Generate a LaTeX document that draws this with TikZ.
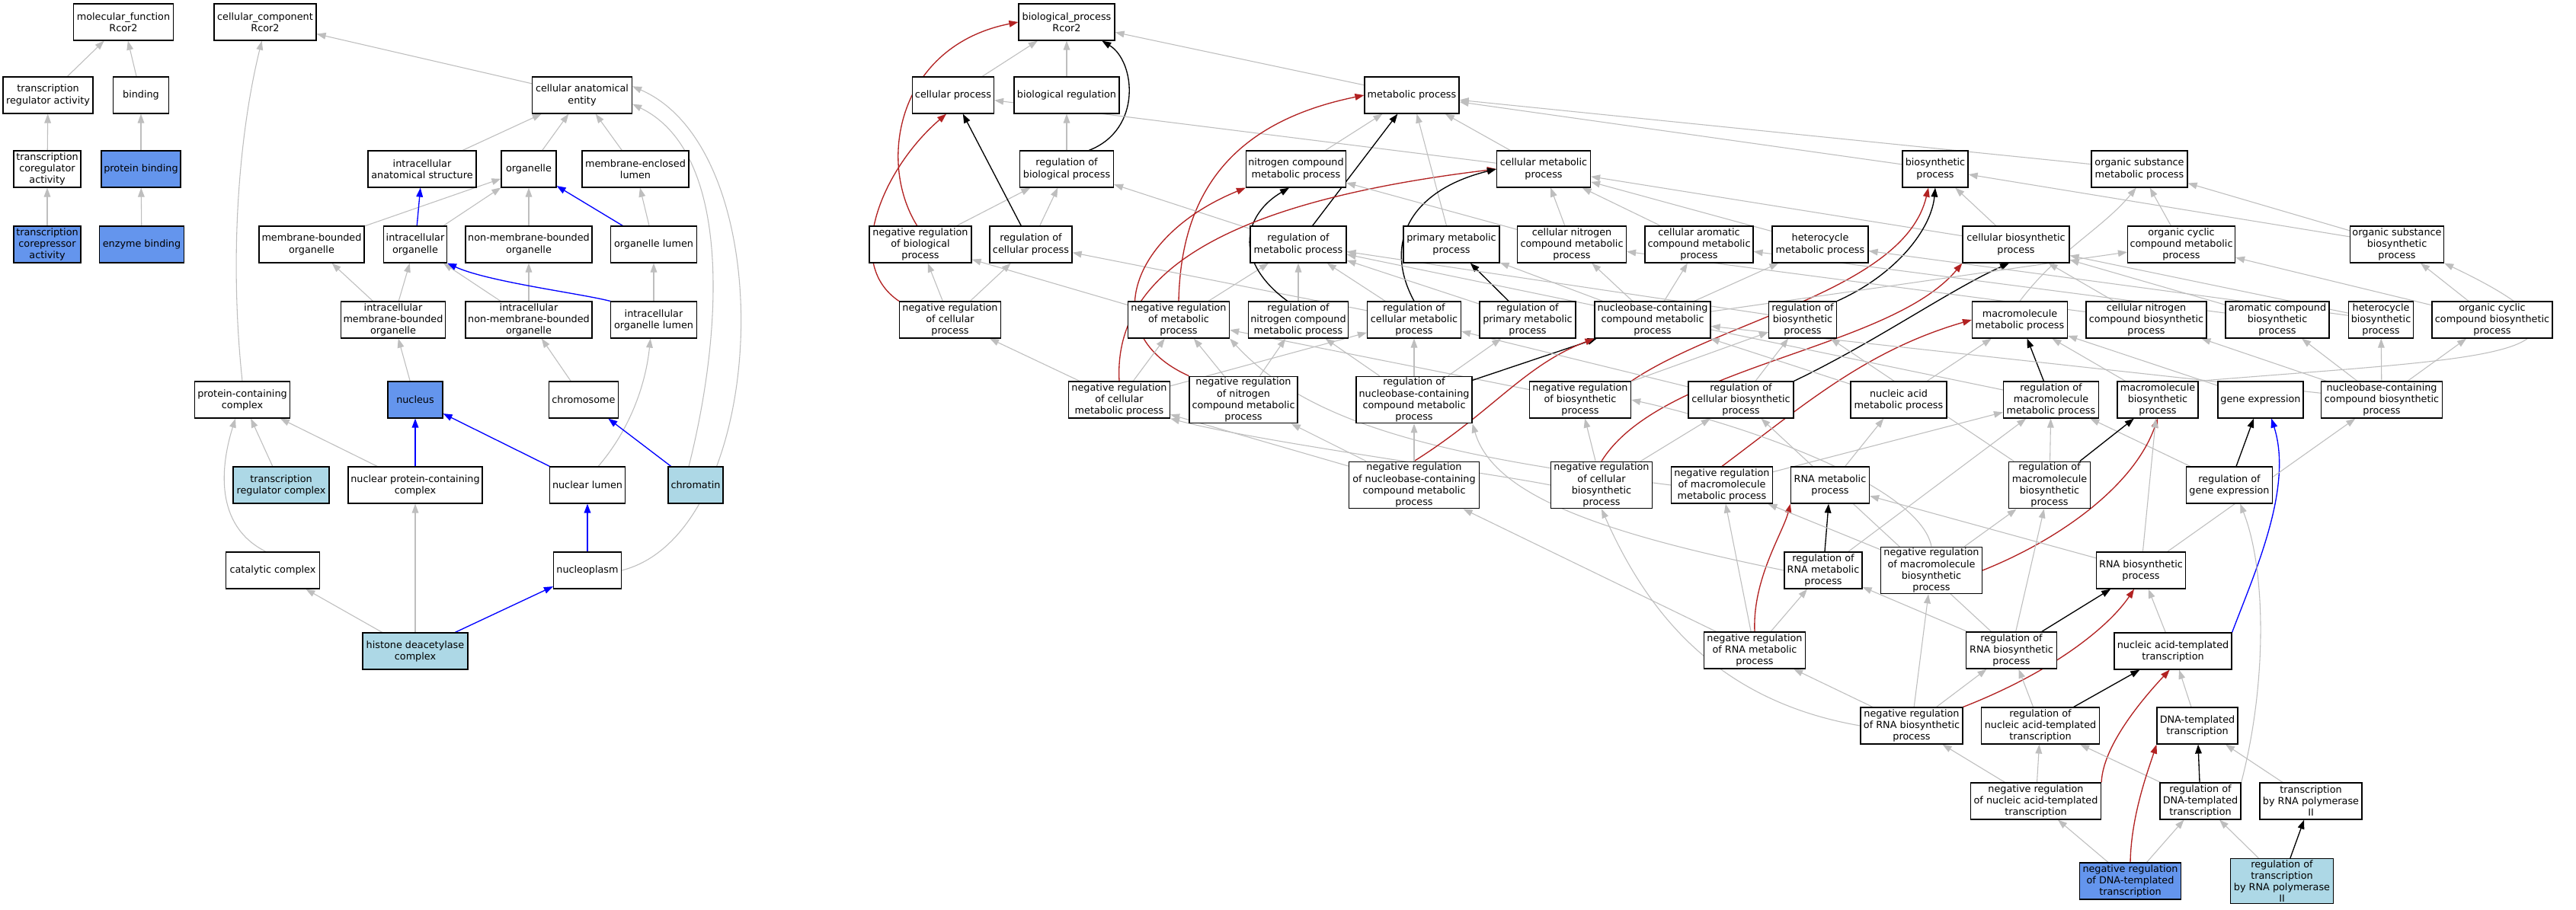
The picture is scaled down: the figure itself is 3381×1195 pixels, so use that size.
\documentclass[tikz,border=0pt]{standalone}
\usepackage{fontspec}
\newfontfamily\dejavu{DejaVu Sans}
\usetikzlibrary{arrows.meta,backgrounds}
\definecolor{hitblue}{HTML}{6495ED}
\definecolor{annoblue}{HTML}{ADD8E6}
\definecolor{isagray}{HTML}{BEBEBE}
\definecolor{negred}{HTML}{B22222}
\newcommand\gofont{\dejavu\fontsize{9.6pt}{11.3pt}\selectfont}

\begin{document}
\begin{tikzpicture}[x=0.75pt, y=-0.75pt,
    term/.style={draw, rectangle, fill=white, align=center, font=\gofont, line width=0.9pt,
      inner sep=1.5pt, minimum height=36pt, minimum width=#1*0.75pt},
    hit/.style={term=#1, fill=hitblue},
    anno/.style={term=#1, fill=annoblue},
    isa/.style={draw=isagray, line width=0.8pt, -{Triangle[length=9pt,width=6.5pt]}},
    reg/.style={draw=black, line width=1pt, -{Triangle[length=9pt,width=6.5pt]}},
    nreg/.style={draw=negred, line width=1pt, -{Triangle[length=9pt,width=6.5pt]}},
    partof/.style={draw=blue, line width=1pt, -{Triangle[length=9pt,width=6.5pt]}}]

  \useasboundingbox (0,0) rectangle (3381,1195);

  % molecular function
  \node[term=131] (mf) at (162,29) {molecular\_function\\Rcor2};
  \node[term=118] (tra) at (63,125) {transcription\\regulator activity};
  \node[term=73] (bind) at (185,125) {binding};
  \node[term=88] (tca) at (62,222) {transcription\\coregulator\\activity};
  \node[hit=104] (pbind) at (185,222) {protein binding};
  \node[hit=88] (tcra) at (62,321) {transcription\\corepressor\\activity};
  \node[hit=111] (ebind) at (186,321) {enzyme binding};

  % cellular component
  \node[term=134] (cc) at (348,29) {cellular\_component\\Rcor2};
  \node[term=131] (cae) at (764,125) {cellular anatomical\\entity};
  \node[term=142] (ias) at (554,222) {intracellular\\anatomical structure};
  \node[term=72] (org) at (694,222) {organelle};
  \node[term=140] (mel) at (834,222) {membrane-enclosed\\lumen};
  \node[term=138] (mbo) at (409,321) {membrane-bounded\\organelle};
  \node[term=83] (io) at (545,321) {intracellular\\organelle};
  \node[term=166] (nmbo) at (694,321) {non-membrane-bounded\\organelle};
  \node[term=113] (ol) at (858,321) {organelle lumen};
  \node[term=137] (imbo) at (516,420) {intracellular\\membrane-bounded\\organelle};
  \node[term=166] (inmbo) at (694,420) {intracellular\\non-membrane-bounded\\organelle};
  \node[term=113] (iol) at (858,420) {intracellular\\organelle lumen};
  \node[term=125] (pcc) at (318,525) {protein-containing\\complex};
  \node[hit=72] (nuc) at (545,525) {nucleus};
  \node[term=91] (chrom) at (766,525) {chromosome};
  \node[anno=126] (trc) at (369,637) {transcription\\regulator complex};
  \node[term=176] (npcc) at (545,637) {nuclear protein-containing\\complex};
  \node[term=99] (nlum) at (771,637) {nuclear lumen};
  \node[anno=72] (chtin) at (913,637) {chromatin};
  \node[term=123] (catc) at (358,749) {catalytic complex};
  \node[term=89] (nplasm) at (771,749) {nucleoplasm};
  \node[anno=138] (hdac) at (545,855) {histone deacetylase\\complex};

  % biological process
  \node[term=126] (bp) at (1400,29) {biological\_process\\Rcor2};
  \node[term=107] (cp) at (1251,125) {cellular process};
  \node[term=138] (br) at (1400,125) {biological regulation};
  \node[term=124] (mp) at (1853,125) {metabolic process};
  \node[term=123] (rbp) at (1400,222) {regulation of\\biological process};
  \node[term=131] (ncmp) at (1701,222) {nitrogen compound\\metabolic process};
  \node[term=123] (cmp) at (2026,222) {cellular metabolic\\process};
  \node[term=86] (bsp) at (2540,222) {biosynthetic\\process};
  \node[term=126] (osmp) at (2808,222) {organic substance\\metabolic process};
  \node[term=134] (nrbp) at (1208,321) {negative regulation\\of biological\\process};
  \node[term=108] (rcp) at (1353,321) {regulation of\\cellular process};
  \node[term=126] (rmp) at (1704,321) {regulation of\\metabolic process};
  \node[term=126] (pmp) at (1905,321) {primary metabolic\\process};
  \node[term=143] (cncmp) at (2063,321) {cellular nitrogen\\compound metabolic\\process};
  \node[term=142] (cacmp) at (2230,321) {cellular aromatic\\compound metabolic\\process};
  \node[term=126] (hmp) at (2389,321) {heterocycle\\metabolic process};
  \node[term=140] (cbsp) at (2646,321) {cellular biosynthetic\\process};
  \node[term=141] (occmp) at (2863,321) {organic cyclic\\compound metabolic\\process};
  \node[term=123] (osbp) at (3146,321) {organic substance\\biosynthetic\\process};
  \node[term=133] (nrcp) at (1247,420) {negative regulation\\of cellular\\process};
  \node[term=133] (nrmp) at (1547,420) {negative regulation\\of metabolic\\process};
  \node[term=131] (rncmp) at (1704,420) {regulation of\\nitrogen compound\\metabolic process};
  \node[term=123] (rcmp) at (1856,420) {regulation of\\cellular metabolic\\process};
  \node[term=126] (rpmp) at (2005,420) {regulation of\\primary metabolic\\process};
  \node[term=152] (nbcmp) at (2169,420) {nucleobase-containing\\compound metabolic\\process};
  \node[term=89] (rbsp) at (2366,420) {regulation of\\biosynthetic\\process};
  \node[term=125] (mmp) at (2651,420) {macromolecule\\metabolic process};
  \node[term=158] (cncbp) at (2817,420) {cellular nitrogen\\compound biosynthetic\\process};
  \node[term=136] (acbp) at (2989,420) {aromatic compound\\biosynthetic\\process};
  \node[term=85] (hbp) at (3125,420) {heterocycle\\biosynthetic\\process};
  \node[term=158] (occbp) at (3271,420) {organic cyclic\\compound biosynthetic\\process};
  \node[term=133] (nrcmp) at (1469,525) {negative regulation\\of cellular\\metabolic process};
  \node[term=142] (nrncmp) at (1632,525) {negative regulation\\of nitrogen\\compound metabolic\\process};
  \node[term=152] (rnbcmp) at (1856,525) {regulation of\\nucleobase-containing\\compound metabolic\\process};
  \node[term=133] (nrbsp) at (2074,525) {negative regulation\\of biosynthetic\\process};
  \node[term=138] (rcbsp) at (2285,525) {regulation of\\cellular biosynthetic\\process};
  \node[term=126] (namp) at (2492,525) {nucleic acid\\metabolic process};
  \node[term=125] (rmmp) at (2692,525) {regulation of\\macromolecule\\metabolic process};
  \node[term=106] (mbp) at (2832,525) {macromolecule\\biosynthetic\\process};
  \node[term=112] (gexp) at (2967,525) {gene expression};
  \node[term=159] (nbcbp) at (3126,525) {nucleobase-containing\\compound biosynthetic\\process};
  \node[term=171] (nrnbcmp) at (1856,637) {negative regulation\\of nucleobase-containing\\compound metabolic\\process};
  \node[term=133] (nrcbsp) at (2102,637) {negative regulation\\of cellular\\biosynthetic\\process};
  \node[term=133] (nrmmp) at (2260,637) {negative regulation\\of macromolecule\\metabolic process};
  \node[term=103] (rnamp) at (2402,637) {RNA metabolic\\process};
  \node[term=107] (rmbp) at (2690,637) {regulation of\\macromolecule\\biosynthetic\\process};
  \node[term=113] (rgexp) at (2926,637) {regulation of\\gene expression};
  \node[term=102] (rrnamp) at (2393,749) {regulation of\\RNA metabolic\\process};
  \node[term=133] (nrmbp) at (2535,749) {negative regulation\\of macromolecule\\biosynthetic\\process};
  \node[term=117] (rnabp) at (2810,749) {RNA biosynthetic\\process};
  \node[term=133] (nrrnamp) at (2303,854) {negative regulation\\of RNA metabolic\\process};
  \node[term=119] (rrnabp) at (2640,854) {regulation of\\RNA biosynthetic\\process};
  \node[term=154] (natt) at (2852,855) {nucleic acid-templated\\transcription};
  \node[term=134] (nrrnabp) at (2509,953) {negative regulation\\of RNA biosynthetic\\process};
  \node[term=155] (rnatt) at (2678,953) {regulation of\\nucleic acid-templated\\transcription};
  \node[term=106] (dtt) at (2884,953) {DNA-templated\\transcription};
  \node[term=171] (nrnatt) at (2672,1052) {negative regulation\\of nucleic acid-templated\\transcription};
  \node[term=106] (rdtt) at (2888,1052) {regulation of\\DNA-templated\\transcription};
  \node[term=134] (trp2) at (3033,1052) {transcription\\by RNA polymerase\\II};
  \node[hit=133] (nrdtt) at (2796,1157) {negative regulation\\of DNA-templated\\transcription};
  \node[anno=135] (rtrp2) at (2995,1157) {regulation of\\transcription\\by RNA polymerase\\II};

  \begin{scope}[on background layer]
    \fill[white] (0,0) rectangle (3381,1195);
    % molecular function
    \draw[isa] (tra) -- (mf);
    \draw[isa] (bind) -- (mf);
    \draw[isa] (tca) -- (tra);
    \draw[isa] (pbind) -- (bind);
    \draw[isa] (tcra) -- (tca);
    \draw[isa] (ebind) -- (pbind);
    % cellular component
    \draw[isa] (cae) -- (cc);
    \draw[isa] (pcc.north) .. controls (300,330) and (315,170) .. (cc.-100);
    \draw[isa] (ias) -- (cae);
    \draw[isa] (org) -- (cae);
    \draw[isa] (mel) -- (cae);
    \draw[isa] (mbo) -- (org);
    \draw[isa] (io) -- (org);
    \draw[isa] (nmbo) -- (org);
    \draw[partof] (io) -- (ias);
    \draw[partof] (ol) -- (org);
    \draw[isa] (ol) -- (mel);
    \draw[isa] (imbo) -- (mbo);
    \draw[isa] (imbo) -- (io);
    \draw[isa] (inmbo) -- (io);
    \draw[isa] (inmbo) -- (nmbo);
    \draw[isa] (iol) -- (ol);
    \draw[partof] (iol.north west) .. controls (760,385) and (640,370) .. (io.south east);
    \draw[isa] (nuc) -- (imbo);
    \draw[isa] (chrom) -- (inmbo);
    \draw[isa] (trc) -- (pcc);
    \draw[isa] (npcc) -- (pcc);
    \draw[partof] (npcc) -- (nuc);
    \draw[partof] (nlum) -- (nuc);
    \draw[isa] (nlum.60) .. controls (830,560) and (848,500) .. (iol.-100);
    \draw[partof] (chtin) -- (chrom);
    \draw[isa] (chtin.110) .. controls (950,430) and (960,200) .. (cae.-10);
    \draw[isa] (catc.110) .. controls (280,690) and (290,610) .. (pcc.-110);
    \draw[isa] (nplasm.east) .. controls (1010,700) and (1030,200) .. (cae.10);
    \draw[partof] (nplasm) -- (nlum);
    \draw[isa] (hdac) -- (catc);
    \draw[isa] (hdac) -- (npcc);
    \draw[partof] (hdac) -- (nplasm);
    % biological process
    \draw[isa] (cp) -- (bp);
    \draw[isa] (br) -- (bp);
    \draw[reg] (rbp.40) .. controls (1500,170) and (1490,80) .. (bp.-28);
    \draw[isa] (mp) -- (bp);
    \draw[isa] (rbp) -- (br);
    \draw[nreg] (nrbp.100) .. controls (1150,210) and (1180,60) .. (bp.west);
    \draw[isa] (nrbp) -- (rbp);
    \draw[reg] (rcp) -- (cp);
    \draw[isa] (rcp) -- (rbp);
    \draw[nreg] (nrcp.north west) .. controls (1105,345) and (1160,220) .. (cp.-110);
    \draw[isa] (nrcp) -- (nrbp);
    \draw[isa] (nrcp) -- (rcp);
    \draw[isa] (cmp) -- (cp);
    \draw[isa] (ncmp) -- (mp);
    \draw[reg] (rmp) -- (mp);
    \draw[nreg] (nrmp.north) .. controls (1550,250) and (1620,160) .. (mp.west);
    \draw[isa] (rmp) -- (rbp);
    \draw[isa] (rcmp) -- (rcp);
    \draw[isa] (nrmp) -- (nrbp);
    \draw[isa] (nrmp) -- (rmp);
    \draw[isa] (rncmp) -- (rmp);
    \draw[reg] (rncmp.120) .. controls (1615,340) and (1635,280) .. (ncmp.-110);
    \draw[isa] (rcmp) -- (rmp);
    \draw[nreg] (nrncmp.north west) .. controls (1440,440) and (1480,310) .. (ncmp.south west);
    \draw[nreg] (nrcmp.north) .. controls (1460,340) and (1650,260) .. (cmp.west);
    \draw[isa] (nrcmp) -- (nrcp);
    \draw[isa] (nrcmp) -- (nrmp);
    \draw[isa] (nrcmp) -- (rcmp);
    \draw[isa] (nrncmp) -- (nrmp);
    \draw[isa] (nrncmp) -- (rncmp);
    \draw[isa] (rnbcmp) -- (rncmp);
    \draw[isa] (nrnbcmp) -- (nrcmp);
    \draw[isa] (nrcbsp.west) .. controls (1950,620) and (1650,580) .. (nrcmp.south east);
    \draw[isa] (nrnbcmp) -- (nrncmp);
    \draw[isa] (nrbsp) -- (nrmp);
    \draw[isa] (nrmmp.west) .. controls (1900,600) and (1720,560) .. (nrmp.south east);
    \draw[isa] (cmp) -- (mp);
    \draw[isa] (pmp) -- (mp);
    \draw[reg] (rcmp.north) .. controls (1815,320) and (1850,250) .. (cmp.west);
    \draw[reg] (rpmp) -- (pmp);
    \draw[isa] (cncmp) -- (cmp);
    \draw[isa] (cacmp) -- (cmp);
    \draw[isa] (hmp) -- (cmp);
    \draw[isa] (cbsp) -- (cmp);
    \draw[isa] (cncmp) -- (ncmp);
    \draw[isa] (bsp) -- (mp);
    \draw[isa] (osmp) -- (mp);
    \draw[reg] (rbsp.north east) .. controls (2490,360) and (2535,300) .. (bsp.south);
    \draw[nreg] (nrbsp.north east) .. controls (2260,420) and (2500,380) .. (bsp.-110);
    \draw[isa] (cbsp) -- (bsp);
    \draw[reg] (rcbsp.north east) .. controls (2460,450) and (2560,380) .. (cbsp.-110);
    \draw[nreg] (nrcbsp.north) .. controls (2180,480) and (2480,460) .. (cbsp.south west);
    \draw[nreg] (nrmmp.north) .. controls (2370,530) and (2450,460) .. (mmp.west);
    \draw[isa] (rnbcmp) -- (rcmp);
    \draw[isa] (rnbcmp) -- (rpmp);
    \draw[reg] (rnbcmp) -- (nbcmp);
    \draw[nreg] (nrnbcmp.north) .. controls (1960,540) and (2000,480) .. (nbcmp.south west);
    \draw[isa] (nrnbcmp) -- (rnbcmp);
    \draw[isa] (nbcmp) -- (pmp);
    \draw[isa] (nbcmp) -- (cncmp);
    \draw[isa] (nbcmp) -- (cacmp);
    \draw[isa] (nbcmp) -- (hmp);
    \draw[isa] (nbcmp) -- (occmp);
    \draw[isa] (nrbsp) -- (rbsp);
    \draw[isa] (rcbsp) -- (rbsp);
    \draw[isa] (rcbsp) -- (rcmp);
    \draw[isa] (nrcbsp) -- (nrbsp);
    \draw[isa] (nrcbsp) -- (rcbsp);
    \draw[isa] (nrmmp) -- (rmmp);
    \draw[isa] (namp) -- (nbcmp);
    \draw[isa] (rnamp) -- (namp);
    \draw[isa] (namp) -- (mmp);
    \draw[reg] (rmmp) -- (mmp);
    \draw[isa] (mbp) -- (mmp);
    \draw[isa] (gexp) -- (mmp);
    \draw[isa] (rgexp) -- (rmmp);
    \draw[isa] (rrnamp) -- (rmmp);
    \draw[reg] (rmbp) -- (mbp);
    \draw[nreg] (nrmbp.east) .. controls (2700,710) and (2800,640) .. (mbp.south);
    \draw[isa] (rnabp) -- (mbp);
    \draw[isa] (rmbp) -- (rmmp);
    \draw[isa] (nrmbp) -- (rmbp);
    \draw[isa] (rrnabp) -- (rmbp);
    \draw[reg] (rgexp) -- (gexp);
    \draw[partof] (natt.north east) .. controls (2960,750) and (3010,640) .. (gexp.-60);
    \draw[isa] (rnabp) -- (nbcbp);
    \draw[isa] (rnabp) -- (rnamp);
    \draw[reg] (rrnabp) -- (rnabp);
    \draw[nreg] (nrrnabp.north east) .. controls (2700,880) and (2770,820) .. (rnabp.-110);
    \draw[isa] (natt) -- (rnabp);
    \draw[isa] (rrnabp) -- (rrnamp);
    \draw[reg] (rrnamp) -- (rnamp);
    \draw[nreg] (nrrnamp.north) .. controls (2300,760) and (2340,700) .. (rnamp.south west);
    \draw[isa] (nrrnamp) -- (nrmmp);
    \draw[isa] (nrrnamp) -- (rrnamp);
    \draw[isa] (nrmbp) -- (nrmmp);
    \draw[isa] (nrmbp.north) .. controls (2520,640) and (2300,560) .. (nrbsp.east);
    \draw[isa] (rrnamp.west) .. controls (2100,700) and (1960,650) .. (rnbcmp.south east);
    \draw[isa] (nrrnamp) -- (nrnbcmp);
    \draw[isa] (nrrnabp) -- (nrrnamp);
    \draw[isa] (nrrnabp) -- (nrmbp);
    \draw[isa] (nrrnabp) -- (rrnabp);
    \draw[isa] (nrrnabp.west) .. controls (2250,920) and (2160,800) .. (nrcbsp.south);
    \draw[isa] (rrnabp) -- (rcbsp);
    \draw[isa] (rmbp) -- (rbsp);
    \draw[isa] (rmmp) -- (rmp);
    \draw[isa] (rpmp) -- (rmp);
    \draw[isa] (rbsp) -- (rmp);
    \draw[isa] (cncbp) -- (cbsp);
    \draw[isa] (cncbp) -- (cncmp);
    \draw[isa] (acbp) -- (cbsp);
    \draw[isa] (acbp) -- (cacmp);
    \draw[isa] (hbp) -- (cbsp);
    \draw[isa] (hbp) -- (hmp);
    \draw[isa] (occbp) -- (osbp);
    \draw[isa] (occbp) -- (occmp);
    \draw[isa] (osbp) -- (osmp);
    \draw[isa] (osbp) -- (bsp);
    \draw[isa] (occmp) -- (osmp);
    \draw[isa] (mmp.north) .. controls (2700,330) and (2760,300) .. (osmp.-100);
    \draw[isa] (nbcbp) -- (acbp);
    \draw[isa] (nbcbp) -- (hbp);
    \draw[isa] (nbcbp) -- (occbp);
    \draw[isa] (nbcbp) -- (cncbp);
    \draw[isa] (nbcbp) -- (nbcmp);
    \draw[isa] (mbp.north east) .. controls (3250,470) and (3470,470) .. (osbp.south east);
    \draw[reg] (rnatt) -- (natt);
    \draw[isa] (rnatt) -- (rrnabp);
    \draw[isa] (dtt) -- (natt);
    \draw[nreg] (nrnatt.north east) .. controls (2760,980) and (2810,920) .. (natt.-100);
    \draw[isa] (nrnatt) -- (rnatt);
    \draw[isa] (nrnatt) -- (nrrnabp);
    \draw[reg] (rdtt) -- (dtt);
    \draw[isa] (rdtt) -- (rnatt);
    \draw[isa] (rdtt.north east) .. controls (2975,900) and (2975,750) .. (rgexp.-60);
    \draw[isa] (trp2) -- (dtt);
    \draw[nreg] (nrdtt.north) .. controls (2797,1070) and (2820,1010) .. (dtt.south west);
    \draw[isa] (nrdtt) -- (nrnatt);
    \draw[isa] (nrdtt) -- (rdtt);
    \draw[reg] (rtrp2) -- (trp2);
    \draw[isa] (rtrp2) -- (rdtt);
  \end{scope}
\end{tikzpicture}
\end{document}
